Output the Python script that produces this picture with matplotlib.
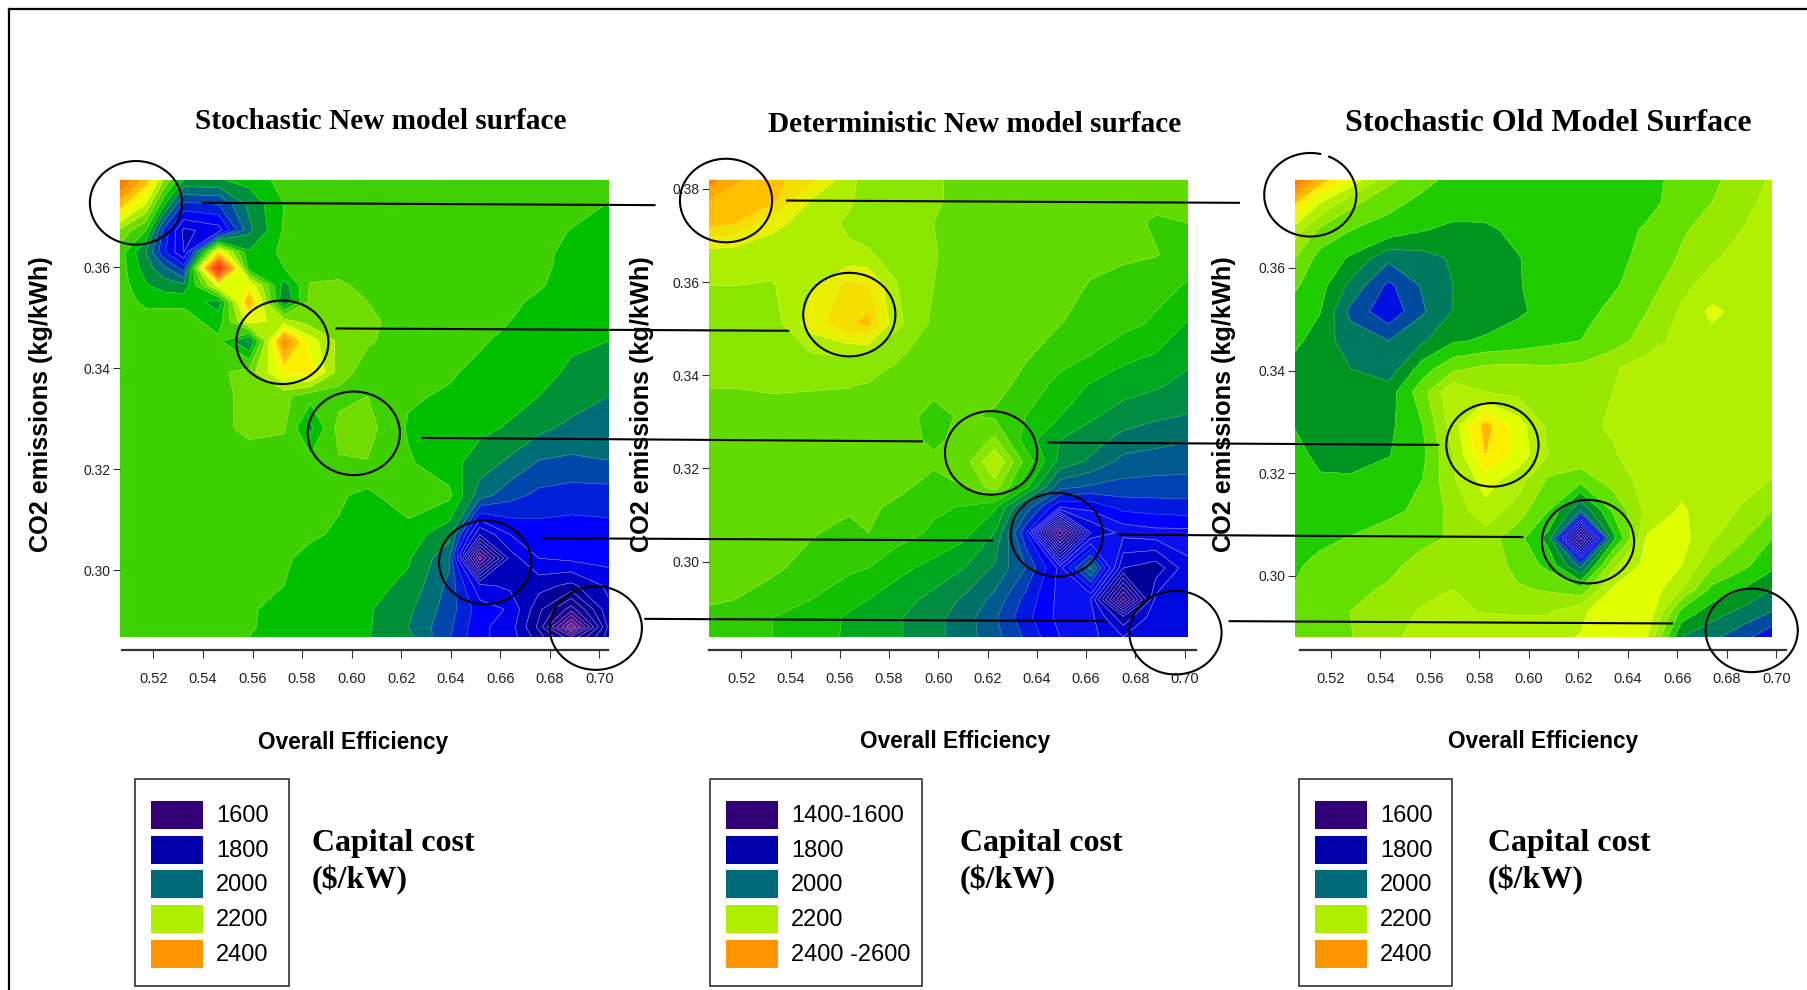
import numpy as np
import matplotlib
matplotlib.use("Agg")
import matplotlib.pyplot as plt
from matplotlib.colors import LinearSegmentedColormap, Normalize
from matplotlib.patches import Ellipse, Rectangle, Arc

# ---------- data (capital cost) ----------
p1_x = [.5065,.5169,.5241,.5323,.5463,.5587,.5727,.5834,.5949,.6064,.6229,.6393,.6517,.6640,.6756,.6887,.7037]
p1_y = [.3773,.3725,.3673,.3630,.3599,.3564,.3532,.3493,.3454,.3392,.3345,.3282,.3212,.3149,.3071,.3024,.2970,.2923,.2888,.2868]
p1_z = [
[2450,2340,2200,2075,2075,2095,2135,2140,2140,2140,2140,2140,2140,2140,2140,2140,2130],
[2340,2240,2090,1950,1960,2050,2120,2140,2140,2140,2140,2140,2140,2140,2140,2140,2118],
[2190,2120,1950,1830,1860,2030,2125,2140,2140,2140,2140,2140,2140,2140,2140,2118,2100],
[2140,2040,1930,1840,2300,2085,2130,2140,2140,2140,2140,2140,2140,2140,2130,2110,2095],
[2140,2060,2010,1940,2590,2090,2120,2135,2140,2140,2140,2140,2140,2140,2130,2105,2095],
[2140,2085,2060,2050,2260,2280,2060,2165,2170,2145,2140,2140,2140,2135,2125,2100,2092],
[2140,2110,2110,2110,2060,2360,2040,2170,2170,2160,2140,2140,2140,2130,2110,2095,2090],
[2140,2140,2140,2140,2100,2260,2220,2180,2170,2170,2140,2140,2135,2120,2105,2095,2085],
[2140,2140,2140,2140,2130,2030,2400,2260,2190,2165,2140,2135,2125,2110,2100,2085,2080],
[2140,2140,2140,2140,2150,2180,2290,2300,2180,2140,2132,2125,2110,2100,2090,2075,2060],
[2140,2140,2140,2140,2150,2170,2170,2135,2145,2160,2125,2115,2105,2095,2080,2060,2040],
[2140,2140,2140,2140,2150,2170,2165,2070,2175,2175,2115,2100,2090,2075,2050,2030,2020],
[2140,2140,2140,2140,2140,2140,2135,2135,2155,2158,2125,2095,2060,2030,1995,1990,1998],
[2140,2140,2140,2140,2140,2140,2140,2130,2125,2110,2150,2130,2020,1975,1950,1940,1940],
[2140,2140,2140,2140,2140,2140,2130,2125,2115,2105,2100,2055,1800,1880,1900,1900,1905],
[2140,2140,2140,2140,2140,2130,2125,2110,2105,2100,2085,2010,1540,1820,1880,1890,1895],
[2140,2140,2140,2140,2140,2140,2120,2105,2100,2095,2070,1990,1850,1830,1815,1790,1850],
[2140,2140,2140,2140,2140,2125,2105,2100,2095,2085,2050,1980,1900,1875,1770,1660,1830],
[2140,2140,2140,2140,2140,2125,2100,2095,2090,2085,2040,1970,1890,1860,1750,1480,1810],
[2140,2140,2140,2140,2140,2120,2100,2098,2090,2082,2050,1965,1890,1860,1780,1650,1820],
]

p2_x = [.5069,.5172,.5327,.5483,.5638,.5716,.5825,.5981,.6105,.6230,.6354,.6494,.6619,.6751,.6883,.7014]
p2_y = [.3819,.3778,.3727,.3660,.3592,.3511,.3448,.3380,.3312,.3261,.3215,.3160,.3117,.3062,.2986,.2918,.2880,.2838]
p2_z = [
[2385,2345,2322,2285,2230,2205,2200,2195,2180,2175,2175,2175,2175,2175,2175,2170],
[2340,2325,2320,2250,2225,2205,2200,2195,2180,2175,2175,2175,2175,2175,2170,2165],
[2322,2312,2260,2235,2215,2212,2205,2190,2178,2175,2175,2175,2175,2172,2155,2160],
[2235,2232,2230,2225,2225,2222,2212,2192,2178,2175,2175,2172,2168,2165,2162,2145],
[2220,2220,2218,2245,2290,2285,2222,2190,2178,2175,2173,2170,2158,2150,2140,2127],
[2205,2205,2205,2265,2305,2320,2230,2183,2172,2175,2172,2161,2150,2140,2125,2097],
[2202,2202,2205,2220,2225,2222,2195,2178,2172,2170,2165,2145,2132,2110,2100,2080],
[2192,2192,2196,2194,2192,2188,2180,2170,2165,2172,2150,2120,2098,2085,2075,2060],
[2178,2175,2175,2175,2175,2175,2175,2150,2165,2155,2130,2100,2075,2055,2045,2038],
[2172,2172,2172,2172,2172,2172,2172,2155,2168,2195,2115,2070,2052,2030,2020,2012],
[2170,2170,2170,2170,2170,2170,2168,2165,2175,2250,2150,2060,2035,2000,1995,1995],
[2170,2170,2170,2170,2170,2170,2168,2150,2160,2205,2110,1990,1975,1970,1968,1965],
[2170,2170,2170,2170,2168,2165,2155,2135,2128,2105,2000,1890,1900,1930,1935,1940],
[2170,2170,2170,2165,2145,2160,2145,2125,2110,2070,1930,1560,1830,1870,1880,1880],
[2170,2170,2170,2140,2135,2130,2110,2090,2070,2035,1980,1880,2020,1800,1780,1850],
[2165,2160,2135,2130,2110,2100,2085,2060,2035,2000,1940,1880,1860,1600,1840,1860],
[2150,2145,2130,2120,2095,2085,2075,2050,2025,1985,1930,1880,1870,1780,1850,1860],
[2145,2135,2130,2115,2095,2085,2075,2050,2025,1990,1945,1890,1870,1830,1840,1840],
]

p3_x = [.5056,.5157,.5280,.5434,.5572,.5695,.5825,.5956,.6079,.6209,.6340,.6478,.6616,.6739,.6862,.6982]
p3_y = [.3771,.3726,.3673,.3619,.3565,.3515,.3458,.3404,.3358,.3292,.3235,.3189,.3127,.3073,.3020,.2974,.2931,.2881]
p3_z = [
[2440,2340,2270,2170,2130,2110,2100,2100,2100,2100,2118,2118,2122,2150,2180,2205],
[2320,2240,2170,2130,2110,2100,2100,2100,2100,2100,2100,2110,2135,2160,2190,2210],
[2220,2150,2120,2105,2082,2070,2072,2090,2100,2100,2105,2125,2155,2175,2200,2220],
[2160,2105,2075,2010,2025,2045,2065,2078,2095,2100,2110,2130,2165,2195,2215,2225],
[2125,2095,2030,1950,2005,2040,2060,2078,2092,2100,2115,2140,2190,2215,2225,2225],
[2105,2082,1990,1930,1995,2042,2060,2075,2090,2105,2130,2160,2205,2250,2225,2225],
[2090,2060,2020,2000,2035,2075,2085,2095,2110,2120,2140,2180,2215,2225,2225,2225],
[2065,2060,2040,2015,2100,2150,2170,2172,2165,2170,2195,2220,2225,2225,2225,2225],
[2060,2055,2045,2060,2145,2235,2200,2190,2165,2178,2200,2225,2225,2225,2225,2225],
[2078,2060,2060,2070,2120,2220,2335,2260,2190,2190,2205,2225,2225,2225,2225,2225],
[2095,2068,2062,2078,2110,2200,2320,2265,2200,2185,2195,2225,2225,2225,2225,2215],
[2100,2085,2085,2100,2120,2195,2260,2220,2155,2140,2180,2215,2225,2225,2215,2200],
[2100,2100,2100,2115,2125,2175,2225,2180,2120,2000,2125,2210,2245,2220,2195,2160],
[2108,2112,2122,2130,2150,2165,2180,2135,2065,1620,2065,2245,2255,2205,2165,2120],
[2115,2130,2140,2150,2175,2195,2190,2145,2110,1990,2190,2255,2240,2165,2130,2090],
[2122,2135,2150,2165,2185,2200,2195,2165,2155,2130,2245,2270,2200,2110,2080,2040],
[2128,2140,2160,2180,2205,2205,2198,2195,2195,2230,2275,2275,2110,2060,2030,2000],
[2140,2150,2158,2190,2215,2220,2222,2225,2230,2242,2255,2241,2040,2010,1975,1930],
]

x_ticks = [.52,.54,.56,.58,.60,.62,.64,.66,.68,.70]
p1_yticks = [.30,.32,.34,.36]
p2_yticks = [.30,.32,.34,.36,.38]
p3_yticks = [.30,.32,.34,.36]
titles = ["Stochastic New model surface", "Deterministic New model surface", "Stochastic Old Model Surface"]
x_label = "Overall Efficiency"
y_label = "CO2 emissions (kg/kWh)"
legend_1 = ["1600", "1800", "2000", "2200", "2400"]
legend_2 = ["1400-1600", "1800", "2000", "2200", "2400 -2600"]
legend_3 = ["1600", "1800", "2000", "2200", "2400"]
legend_colors = ["#330078", "#0000AA", "#006A78", "#B0EE00", "#FF9500"]

# ---------- colour scales ----------
def scale(anchors):
    lo, hi = anchors[0][0], anchors[-1][0]
    return LinearSegmentedColormap.from_list("s", [((v-lo)/(hi-lo), c) for v, c in anchors], N=1024), Normalize(lo, hi)

main_anchors = [(1400,"#b040b0"),(1600,"#330078"),(1700,"#100090"),(1790,"#000098"),(1860,"#0000e8"),
    (1900,"#0000ff"),(1940,"#0020d8"),(1980,"#0048a8"),(2020,"#006e78"),(2060,"#009038"),(2100,"#00c000"),
    (2140,"#3ed000"),(2180,"#70dc00"),(2220,"#aeee00"),(2260,"#e0ff00"),(2300,"#fff000"),(2340,"#ffc000"),
    (2390,"#ff9500"),(2480,"#ff5500"),(2600,"#ff1000")]
det_anchors = [(1400,"#b040b0"),(1600,"#330078"),(1700,"#100090"),(1785,"#000098"),(1815,"#0000c8"),(1845,"#0008e0"),
    (1875,"#0a10f0"),(1905,"#0000ff"),(1935,"#0018e0"),(1965,"#0040b0"),(1995,"#005a90"),(2025,"#007068"),
    (2055,"#008c40"),(2085,"#00a820"),(2115,"#10c000"),(2145,"#30cc00"),(2175,"#62dc00"),(2205,"#88e600"),
    (2235,"#aeee00"),(2265,"#e8f000"),(2295,"#f4e000"),(2325,"#ffc000"),(2355,"#ffa800"),(2385,"#ff8000"),
    (2445,"#ff5500"),(2600,"#ff1000")]
old_anchors = [(1400,"#b040b0"),(1600,"#330078"),(1700,"#100090"),(1790,"#000098"),(1860,"#0000e8"),
    (1900,"#0808f0"),(1940,"#0010e0"),(1980,"#004c9e"),(2020,"#007a60"),(2060,"#009420"),(2100,"#1ecc00"),
    (2140,"#64e000"),(2180,"#98e800"),(2220,"#b0f000"),(2260,"#e0ff00"),(2300,"#fff000"),(2340,"#ffb800"),
    (2390,"#ff9500"),(2480,"#ff5500"),(2600,"#ff1000")]
cmap_main, norm_main = scale(main_anchors)
cmap_det, norm_det = scale(det_anchors)
cmap_old, norm_old = scale(old_anchors)

W, H = 1807, 990
S = W / 1568
fig = plt.figure(figsize=(W/100, H/100), dpi=100, facecolor="white")
SANS = ["Liberation Sans", "DejaVu Sans"]
SERIF = ["Liberation Serif", "DejaVu Serif"]

panels = [
    dict(x=p1_x, y=p1_y, z=p1_z, yt=p1_yticks, box=(120,608.5), lev=np.arange(1400,2681,40), cm=cmap_main, nm=norm_main, axis=(122,608)),
    dict(x=p2_x, y=p2_y, z=p2_z, yt=p2_yticks, box=(709,1188), lev=np.arange(1380,2671,30), cm=cmap_det, nm=norm_det, axis=(709,1196)),
    dict(x=p3_x, y=p3_y, z=p3_z, yt=p3_yticks, box=(1295,1772), lev=np.arange(1400,2681,40), cm=cmap_old, nm=norm_old, axis=(1300,1786)),
]
TOP, BOT, AXY = 180, 637, 650
for p in panels:
    l, r = p["box"]
    ax = fig.add_axes([l/W, 1-BOT/H, (r-l)/W, (BOT-TOP)/H])
    X, Y = np.array(p["x"]), np.array(p["y"])[::-1]
    Z = np.array(p["z"], float)[::-1]
    ax.contourf(X, Y, Z, levels=p["lev"], cmap=p["cm"], norm=p["nm"])
    ax.contour(X, Y, Z, levels=p["lev"], colors="white", linewidths=0.35, alpha=0.35)
    ax.contour(X, Y, Z, levels=p["lev"][p["lev"] < 1900], colors="#b0a0ff", linewidths=0.4, alpha=0.7)
    ax.set_xlim(X[0], X[-1]); ax.set_ylim(Y[0], Y[-1])
    for s in ax.spines.values():
        s.set_visible(False)
    ax.set_xticks([])
    ax.set_yticks(p["yt"])
    ax.set_yticklabels([f"{v:.2f}" for v in p["yt"]], family=SANS, fontsize=10)
    ax.tick_params(axis="y", length=5, width=0.8, color="#333333", pad=1.5, labelcolor="#222222")
    # separate x axis strip below the surface, on the same scale
    a0, a1 = p["axis"]
    k = (X[-1]-X[0])/(r-l)
    axx = fig.add_axes([a0/W, 1-AXY/H, (a1-a0)/W, 0.0005], facecolor="none")
    axx.set_xlim(X[0]+(a0-l)*k, X[0]+(a1-l)*k)
    for n, s in axx.spines.items():
        s.set_visible(n == "bottom")
    axx.spines["bottom"].set_linewidth(1.6); axx.spines["bottom"].set_color("#333333")
    axx.set_yticks([])
    axx.set_xticks(x_ticks)
    axx.set_xticklabels([f"{v:.2f}" for v in x_ticks], family=SANS, fontsize=10.5)
    axx.tick_params(axis="x", length=6, width=0.8, pad=9.5, color="#333333", labelcolor="#222222")

# ---------- overlay in image coordinates ----------
ov = fig.add_axes([0, 0, 1, 1], facecolor="none", zorder=20)
ov.set_xlim(0, W); ov.set_ylim(H, 0); ov.axis("off")

ov.plot([9, 9], [9, H], color="black", lw=1.6)
ov.plot([9, W], [9, 9], color="black", lw=1.6)

circles = [(118,176),(245,297),(307,376),(421,488),(517,545),
           (630,174),(737,273),(860,393),(917,464),(1020,549),
           (1295,386),(1378,470),(1520,547)]
for cx, cy in circles:
    ov.add_patch(Ellipse((cx*S, cy*S), 80*S, 72.5*S, fill=False, ec="black", lw=1.5))
ov.add_patch(Arc((1137*S, 169*S), 80*S, 72.5*S, theta1=-65, theta2=285, ec="black", lw=1.5))
links = [((176,176),(568,178)),((292,285),(684,287)),((367,380),(800,383)),((471,467),(861,469)),((560,537),(960,539)),
         ((683,174),(1075,176)),((910,384),(1248,386)),((970,464),(1321,466)),((1067,539),(1451,541))]
for (x0,y0),(x1,y1) in links:
    ov.plot([x0*S,x1*S],[y0*S,y1*S], color="black", lw=1.5)

ov.text(330.5*S, 105.5*S, titles[0], family=SERIF, weight="bold", fontsize=21.1, ha="center", va="center")
ov.text(845.5*S, 108*S, titles[1], family=SERIF, weight="bold", fontsize=21.1, ha="center", va="center")
ov.text(1343.5*S, 107*S, titles[2], family=SERIF, weight="bold", fontsize=23, ha="center", va="center")
for cx in (36, 557, 1062):
    ov.text(cx*S, 351*S, y_label, family=SANS, weight="bold", fontsize=18.2, rotation=90, ha="center", va="center")
for cx, cy in ((306,644),(829,643.5),(1339,643.5)):
    ov.text(cx*S, cy*S, x_label, family=SANS, weight="bold", fontsize=16.3, ha="center", va="center")

boxes = [(135,289,151,216,legend_1,312),(710,922,726,791,legend_2,960),(1299,1452,1315,1380,legend_3,1488)]
sw_top = [801,836,870,905,940]
for b0,b1,sx,lx,labs,cx in boxes:
    ov.add_patch(Rectangle((b0,779), b1-b0, 207, fill=False, ec="#222222", lw=1.1))
    for y, lab, col in zip(sw_top, labs, legend_colors):
        ov.add_patch(Rectangle((sx,y), 52, 28, fc=col, ec="none"))
        ov.text(lx, y+15, lab, family=SANS, fontsize=17, ha="left", va="center", color="black")
    ov.text(cx, 844, "Capital cost", family=SERIF, weight="bold", fontsize=23, ha="left", va="center")
    ov.text(cx, 880, "($/kW)", family=SERIF, weight="bold", fontsize=23, ha="left", va="center")

fig.savefig("out.png", dpi=100, facecolor="white")
